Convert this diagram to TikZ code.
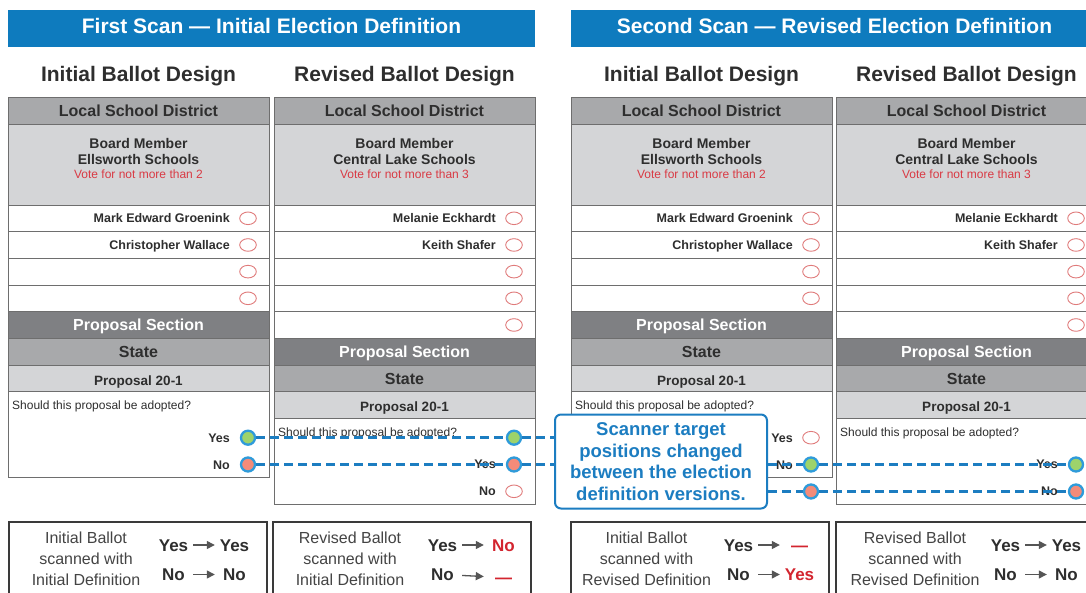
\documentclass[tikz,border=0pt]{standalone}
\usepackage{fontspec}
\setmainfont{Liberation Sans}
\usetikzlibrary{arrows.meta}
\definecolor{hblue}{HTML}{0E7BBE}
\definecolor{txt}{HTML}{2E2E2E}
\definecolor{hdrg}{HTML}{A8A9AB}
\definecolor{lightg}{HTML}{D4D5D7}
\definecolor{darkg}{HTML}{7F8083}
\definecolor{bord}{HTML}{6E6E6E}
\definecolor{vred}{HTML}{D93A44}
\definecolor{ered}{HTML}{E07B7B}
\definecolor{dgreen}{HTML}{9DD36B}
\definecolor{dsalmon}{HTML}{F38B79}
\definecolor{ring}{HTML}{2F9BDA}
\definecolor{dashblue}{HTML}{1C7DC1}
\definecolor{resred}{HTML}{D3252F}
\definecolor{boxtxt}{HTML}{444444}
\definecolor{frame}{HTML}{3A3A3A}
\definecolor{arrg}{HTML}{555555}
\tikzset{
  every node/.style={inner sep=0pt},
  banner/.style={text=white, font=\fontsize{21}{24}\selectfont\bfseries, text height=15pt, text depth=0pt},
  coltitle/.style={text=txt, font=\fontsize{21}{24}\selectfont\bfseries, text height=15pt, text depth=0pt},
  secttxt/.style={text=txt, font=\fontsize{16}{18}\selectfont\bfseries, text height=11.5pt, text depth=0pt},
  secttxtw/.style={secttxt, text=white},
  bmtxt/.style={text=txt, font=\fontsize{14}{16}\selectfont\bfseries, text height=10pt, text depth=0pt},
  votetxt/.style={text=vred, font=\fontsize{12}{14}\selectfont, text height=8.6pt, text depth=0pt},
  nametxt/.style={text=txt, font=\fontsize{12.5}{14}\selectfont\bfseries, text height=9pt, text depth=0pt},
  proptxt/.style={text=txt, font=\fontsize{13.5}{15}\selectfont\bfseries, text height=9.7pt, text depth=0pt},
  asktxt/.style={text=txt, font=\fontsize{12}{14}\selectfont, text height=8.6pt, text depth=0pt},
  band/.style={draw=bord, line width=0.9pt},
  emptyc/.style={draw=ered, line width=0.9pt},
  dot/.style={circle, draw=ring, line width=2.3pt, minimum size=14pt, inner sep=0pt},
  dotg/.style={dot, fill=dgreen},
  dots/.style={dot, fill=dsalmon},
  dashl/.style={draw=dashblue, line width=2.8pt, dash pattern=on 9pt off 5pt},
  callout/.style={draw=dashblue, line width=2pt, fill=white, rounded corners=6pt,
    minimum width=212pt, minimum height=94pt, text=dashblue,
    font=\fontsize{18.5}{21.5}\selectfont\bfseries, align=center},
  resframe/.style={draw=frame, line width=2pt},
  restxt/.style={text=boxtxt, font=\fontsize{16}{21}\selectfont, align=center},
  resw/.style={font=\fontsize{17}{19}\selectfont\bfseries, text=txt, text height=12.2pt, text depth=0pt, minimum width=39pt},
  resr/.style={resw, text=resred},
  resdash/.style={resr, yshift=-3pt},
  resarr/.style={draw=arrg, line width=1.3pt, -{Triangle[length=8pt,width=8pt]}},
}
% ballot panel: #1 left, #2 rows, #3 school, #4 limit, #5 cand1, #6 cand2, #7 title, #8 prefix
\newcommand{\ballotpanel}[8]{%
\begin{scope}[xshift=#1pt]
  \node[coltitle] (#8-title) at (130.5,74) {#7};
  \path[band, fill=hdrg] (0,97.7) rectangle (261,124.7);
  \node[secttxt] (#8-lsd) at (130.5,111.2) {Local School District};
  \path[band, fill=lightg] (0,124.7) rectangle (261,205);
  \node[bmtxt] (#8-bm) at (130.5,143.5) {Board Member};
  \node[bmtxt] (#8-sch) at (130.5,159.5) {#3};
  \node[votetxt] (#8-vote) at (130.5,174.5) {Vote for not more than #4};
  \foreach \i in {1,...,#2}{
    \path[band, fill=white] (0,{205+26.67*(\i-1)}) rectangle (261,{205+26.67*\i});
    \draw[emptyc] (240,{218.3+26.67*(\i-1)}) ellipse [x radius=8.3, y radius=6.3];
  }
  \node[nametxt, anchor=east] (#8-c1) at (222,218.3) {#5};
  \node[nametxt, anchor=east] (#8-c2) at (222,245) {#6};
  \pgfmathsetmacro{\bptop}{205+26.67*#2}
  \path[band, fill=darkg] (0,\bptop) rectangle (261,\bptop+26.67);
  \node[secttxtw] (#8-ps) at (130.5,\bptop+13.5) {Proposal Section};
  \path[band, fill=hdrg] (0,\bptop+26.67) rectangle (261,\bptop+53.33);
  \node[secttxt] (#8-st) at (130.5,\bptop+40.2) {State};
  \path[band, fill=lightg] (0,\bptop+53.33) rectangle (261,\bptop+86);
  \node[proptxt] (#8-p) at (130.5,\bptop+68.5) {Proposal 20-1};
  \path[band, fill=white] (0,\bptop+80) rectangle (261,\bptop+166);
  \node[asktxt, anchor=west] (#8-ask) at (4,\bptop+94) {Should this proposal be adopted?};
  \node[nametxt, anchor=east] (#8-yl) at (222,\bptop+126) {Yes};
  \node[nametxt, anchor=east] (#8-nl) at (222,\bptop+153) {No};
\end{scope}}
% result box: #1 left, #2 text cx, #3 text, #4 arrow cx, #5 yes-result style, #6 yes result,
% #7 no-result style, #8 no result, #9 prefix
\newcommand{\resultbox}[9]{%
  \draw[resframe] (#1,522) rectangle ({#1+258},610);
  \node[restxt] (#9-t) at (#2,559) {#3};
  \node[resw] (#9-yl) at ({#4-30.5},545) {Yes};
  \node[#5] (#9-yr) at ({#4+30.5},545) {#6};
  \draw[resarr] (#9-yl) -- (#9-yr);
  \node[resw] (#9-nl) at ({#4-30.5},574.5) {No};
  \node[#7] (#9-nr) at ({#4+30.5},574.5) {#8};
  \draw[resarr] (#9-nl) -- (#9-nr);
}
\begin{document}
\begin{tikzpicture}[x=1pt,y=-1pt]
\path[use as bounding box] (0,0) rectangle (1086,593);
\clip (0,0) rectangle (1086,593);
\fill[white] (0,0) rectangle (1086,593);
% banners
\fill[hblue] (8,10) rectangle (535,47);
\node[banner] (ban1) at (271.5,26) {First Scan — Initial Election Definition};
\fill[hblue] (571,10) rectangle (1098,47);
\node[banner] (ban2) at (834.5,26) {Second Scan — Revised Election Definition};
% ballots
\ballotpanel{8}{4}{Ellsworth Schools}{2}{Mark Edward Groenink}{Christopher Wallace}{Initial Ballot Design}{b1}
\ballotpanel{274}{5}{Central Lake Schools}{3}{Melanie Eckhardt}{Keith Shafer}{Revised Ballot Design}{b2}
\ballotpanel{571}{4}{Ellsworth Schools}{2}{Mark Edward Groenink}{Christopher Wallace}{Initial Ballot Design}{b3}
\ballotpanel{836}{5}{Central Lake Schools}{3}{Melanie Eckhardt}{Keith Shafer}{Revised Ballot Design}{b4}
% empty targets not used
\draw[emptyc] (514,491.3) ellipse [x radius=8.3, y radius=6.3];
\draw[emptyc] (811,437.7) ellipse [x radius=8.3, y radius=6.3];
% callout
\node[callout] (co) at (661,461.5) {Scanner target\\positions changed\\between the election\\definition versions.};
% scanner target dots
\node[dotg] (b1yes) at (248,437.7) {};
\node[dots] (b1no) at (248,464.5) {};
\node[dotg] (b2g) at (514,437.7) {};
\node[dots] (b2s) at (514,464.5) {};
\node[dotg] (b3g) at (811,464.5) {};
\node[dots] (b3s) at (811,491.5) {};
\node[dotg] (b4g) at (1076,464.5) {};
\node[dots] (b4s) at (1076,491.5) {};
% dashed connectors
\draw[dashl] (b1yes) -- (b2g);
\draw[dashl] (b2g) -- (b2g -| co.west);
\draw[dashl] (b1no) -- (b2s);
\draw[dashl] (b2s) -- (b2s -| co.west);
\draw[dashl] (co.east |- b3g) -- (b3g);
\draw[dashl] (b3g) -- (b4g);
\draw[dashl] (co.east |- b3s) -- (b3s);
\draw[dashl] (b3s) -- (b4s);
% result boxes
\resultbox{9}{86}{Initial Ballot\\scanned with\\Initial Definition}{204}{resw}{Yes}{resw}{No}{r1}
\resultbox{273}{350}{Revised Ballot\\scanned with\\Initial Definition}{473}{resr}{No}{resdash}{—}{r2}
\resultbox{571}{646.5}{Initial Ballot\\scanned with\\Revised Definition}{769}{resr}{—}{resr}{Yes}{r3}
\resultbox{836}{915}{Revised Ballot\\scanned with\\Revised Definition}{1036}{resw}{Yes}{resw}{No}{r4}
\end{tikzpicture}
\end{document}
